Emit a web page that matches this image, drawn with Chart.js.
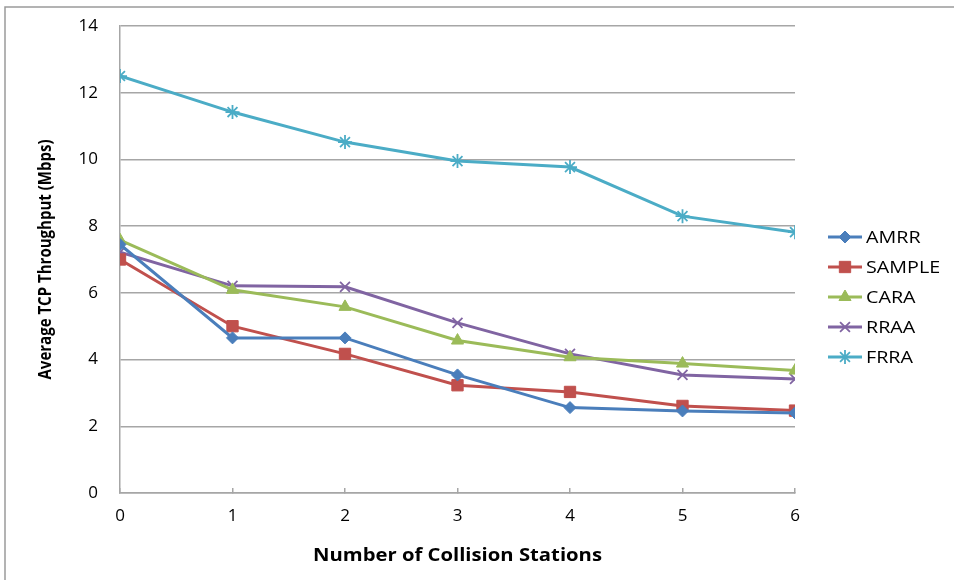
<!DOCTYPE html>
<html>
<head>
<meta charset="utf-8">
<script src="https://cdn.jsdelivr.net/npm/chart.js@4.4.1/dist/chart.umd.min.js"></script>
<style>
  html, body { margin: 0; padding: 0; background: #fff; }
  #wrap { width: 954px; height: 580px; }
</style>
</head>
<body>
<div id="wrap"><canvas id="chart" width="954" height="580"></canvas></div>
<script>
// x: number of collision stations
const stations = [0, 1, 2, 3, 4, 5, 6];
const yTicks = [0, 2, 4, 6, 8, 10, 12, 14];

// average TCP throughput (Mbps)
const amrr   = [7.45, 4.65, 4.65, 3.54, 2.56, 2.46, 2.40];
const sample = [7.00, 5.00, 4.17, 3.23, 3.03, 2.61, 2.47];
const cara   = [7.58, 6.09, 5.58, 4.57, 4.07, 3.88, 3.67];
const rraa   = [7.22, 6.21, 6.18, 5.10, 4.17, 3.54, 3.42];
const frra   = [12.50, 11.42, 10.52, 9.95, 9.77, 8.30, 7.82];

const seriesNames = ["AMRR", "SAMPLE", "CARA", "RRAA", "FRRA"];
const seriesData = [amrr, sample, cara, rraa, frra];
const colors = ["#4a7ebb", "#c0504d", "#9bbb59", "#8064a2", "#4bacc6"];
const markers = ["rectRot", "rect", "triangle", "crossRot", "star"];
const markerSize = [6, 8, 7, 7, 7];

const gridColor = "#a6a6a6";
const font = "'Open Sans', 'Liberation Sans', sans-serif";

const datasets = seriesNames.map((name, i) => ({
  label: name,
  data: stations.map((x, j) => ({ x: x, y: seriesData[i][j] })),
  borderColor: colors[i],
  backgroundColor: colors[i],
  pointBackgroundColor: colors[i],
  pointBorderColor: colors[i],
  pointStyle: markers[i],
  pointRadius: markerSize[i],
  pointBorderWidth: (markers[i] === "crossRot" || markers[i] === "star") ? 1.8 : 1,
  borderWidth: 3,
  tension: 0,
  fill: false
}));

// text squeezed/stretched to a given width (the source image is not 1:1)
function fitText(ctx, text, x, y, width) {
  const w = ctx.measureText(text).width;
  ctx.save();
  ctx.translate(x, y);
  ctx.scale(width / w, 1);
  ctx.fillText(text, 0, 0);
  ctx.restore();
}

// frame, axis titles and the legend
const extras = {
  id: "extras",
  beforeDraw(chart) {
    const ctx = chart.ctx;
    ctx.save();
    ctx.strokeStyle = "#9a9a9a";
    ctx.lineWidth = 1.5;
    ctx.beginPath();
    ctx.moveTo(5, 580);
    ctx.lineTo(5, 7);
    ctx.lineTo(954, 7);
    ctx.stroke();
    ctx.restore();
  },
  afterDraw(chart) {
    const ctx = chart.ctx;
    const area = chart.chartArea;
    ctx.save();
    ctx.fillStyle = "#000";
    ctx.textBaseline = "middle";
    // x title
    ctx.font = "bold 17px " + font;
    ctx.textAlign = "center";
    fitText(ctx, "Number of Collision Stations", (area.left + area.right) / 2, 556, 289);
    // y title
    ctx.save();
    ctx.translate(46, (area.top + area.bottom) / 2);
    ctx.rotate(-Math.PI / 2);
    ctx.font = "bold 18px " + font;
    fitText(ctx, "Average TCP Throughput (Mbps)", 0, 0, 240);
    ctx.restore();
    // legend
    ctx.font = "17px " + font;
    ctx.textAlign = "left";
    chart.data.datasets.forEach((ds, i) => {
      const y = 237 + i * 30;
      ctx.strokeStyle = ds.borderColor;
      ctx.lineWidth = 3;
      ctx.beginPath();
      ctx.moveTo(828, y);
      ctx.lineTo(862, y);
      ctx.stroke();
      ctx.fillStyle = ds.borderColor;
      ctx.lineWidth = ds.pointBorderWidth;
      Chart.helpers.drawPoint(ctx, {
        pointStyle: ds.pointStyle,
        radius: ds.pointRadius,
        borderWidth: ds.pointBorderWidth,
        rotation: 0
      }, 845, y);
      ctx.fillStyle = "#000";
      const w = ctx.measureText(ds.label).width * 1.16;
      fitText(ctx, ds.label, 866, y + 1, w);
    });
    ctx.restore();
  }
};

new Chart(document.getElementById("chart"), {
  type: "line",
  data: { datasets },
  plugins: [extras],
  options: {
    responsive: false,
    animation: false,
    layout: { padding: { left: 0, right: 159, top: 26, bottom: 0 } },
    plugins: { legend: { display: false }, tooltip: { enabled: false } },
    scales: {
      x: {
        type: "linear",
        min: 0,
        max: 6,
        afterFit(scale) { scale.height = 87; },
        afterBuildTicks(scale) { scale.ticks = stations.map(v => ({ value: v })); },
        grid: {
          display: true,
          drawOnChartArea: false,
          drawTicks: true,
          tickLength: -5,
          color: gridColor,
          lineWidth: 1.5
        },
        border: { color: gridColor, width: 1.5 },
        ticks: { color: "#000", padding: 18, font: { size: 17, family: font } }
      },
      y: {
        min: 0,
        max: 14,
        afterFit(scale) {
          scale.width = 120;
          scale.paddingTop = 0;
          scale.paddingBottom = 0;
        },
        afterBuildTicks(scale) { scale.ticks = yTicks.map(v => ({ value: v })); },
        grid: { color: gridColor, lineWidth: 1.5, drawTicks: false },
        border: { color: gridColor, width: 1.5 },
        ticks: { color: "#000", padding: 22, font: { size: 17, family: font } }
      }
    }
  }
});
</script>
</body>
</html>
